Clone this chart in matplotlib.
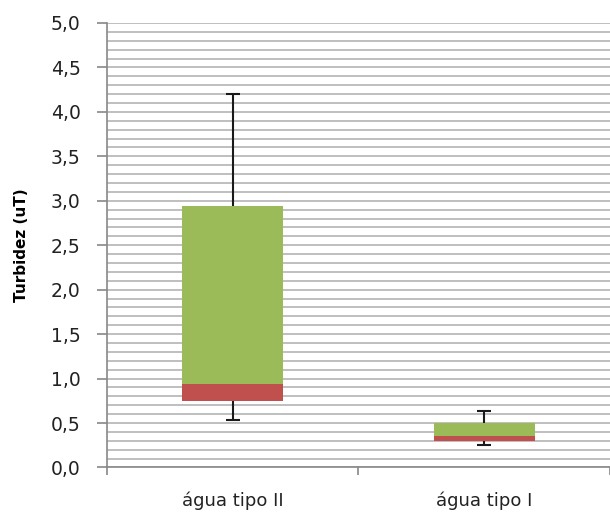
import numpy as np
import matplotlib.pyplot as plt
from matplotlib.ticker import MultipleLocator, FuncFormatter

# dados (box plot montado com barras empilhadas)
categorias = ['água tipo II', 'água tipo I']
minimo = [0.53, 0.25]
q1 = [0.75, 0.30]
mediana = [0.94, 0.35]
q3 = [2.94, 0.50]
maximo = [4.20, 0.64]

verde = '#9BBB59'
vermelho = '#C0504D'
cinza = '#B4B4B4'

fig = plt.figure(figsize=(6.1, 5.14), dpi=100)
ax = fig.add_axes([0.1754, 0.0905, 0.8246, 0.8648])

x = np.arange(len(categorias))
q1 = np.array(q1)
mediana = np.array(mediana)
q3 = np.array(q3)

# bigodes (atrás das caixas)
ax.vlines(x, minimo, q1, color='#1a1a1a', linewidth=1.5, zorder=2)
ax.vlines(x, q3, maximo, color='#1a1a1a', linewidth=1.5, zorder=2)
ax.plot(x, minimo, ls='none', marker='_', ms=10, mew=1.5, color='#1a1a1a', zorder=2)
ax.plot(x, maximo, ls='none', marker='_', ms=10, mew=1.5, color='#1a1a1a', zorder=2)

ax.bar(x, mediana - q1, bottom=q1, width=0.4, color=vermelho, zorder=3)
ax.bar(x, q3 - mediana, bottom=mediana, width=0.4, color=verde, zorder=3)

ax.set_xlim(-0.5, len(categorias) - 0.5)
ax.set_ylim(0, 5)
ax.yaxis.set_major_locator(MultipleLocator(0.5))
ax.yaxis.set_minor_locator(MultipleLocator(0.1))
ax.yaxis.set_major_formatter(FuncFormatter(lambda v, p: f'{v:.1f}'.replace('.', ',')))
ax.grid(True, which='both', axis='y', color=cinza, linewidth=1.2, zorder=0)
ax.set_axisbelow(True)

ax.set_xticks(x)
ax.set_xticklabels(categorias, fontsize=13, color='#222222')
ax.set_xticks([-0.5, 0.5, 1.5], minor=True)
ax.tick_params(axis='x', which='major', length=0, pad=17)
ax.tick_params(axis='x', which='minor', length=6, color='#888888', width=1.2)
ax.tick_params(axis='y', which='major', length=7, color='#888888', width=1.2,
               labelsize=13.5, labelcolor='#222222', pad=12)
ax.tick_params(axis='y', which='minor', length=0)

for lado in ['top', 'right']:
    ax.spines[lado].set_visible(False)
for lado in ['left', 'bottom']:
    ax.spines[lado].set_color('#888888')
    ax.spines[lado].set_linewidth(1.2)

ax.set_ylabel('Turbidez (uT)', fontsize=11, fontweight='bold', labelpad=16)

plt.savefig('out.png', dpi=100, facecolor='white')
